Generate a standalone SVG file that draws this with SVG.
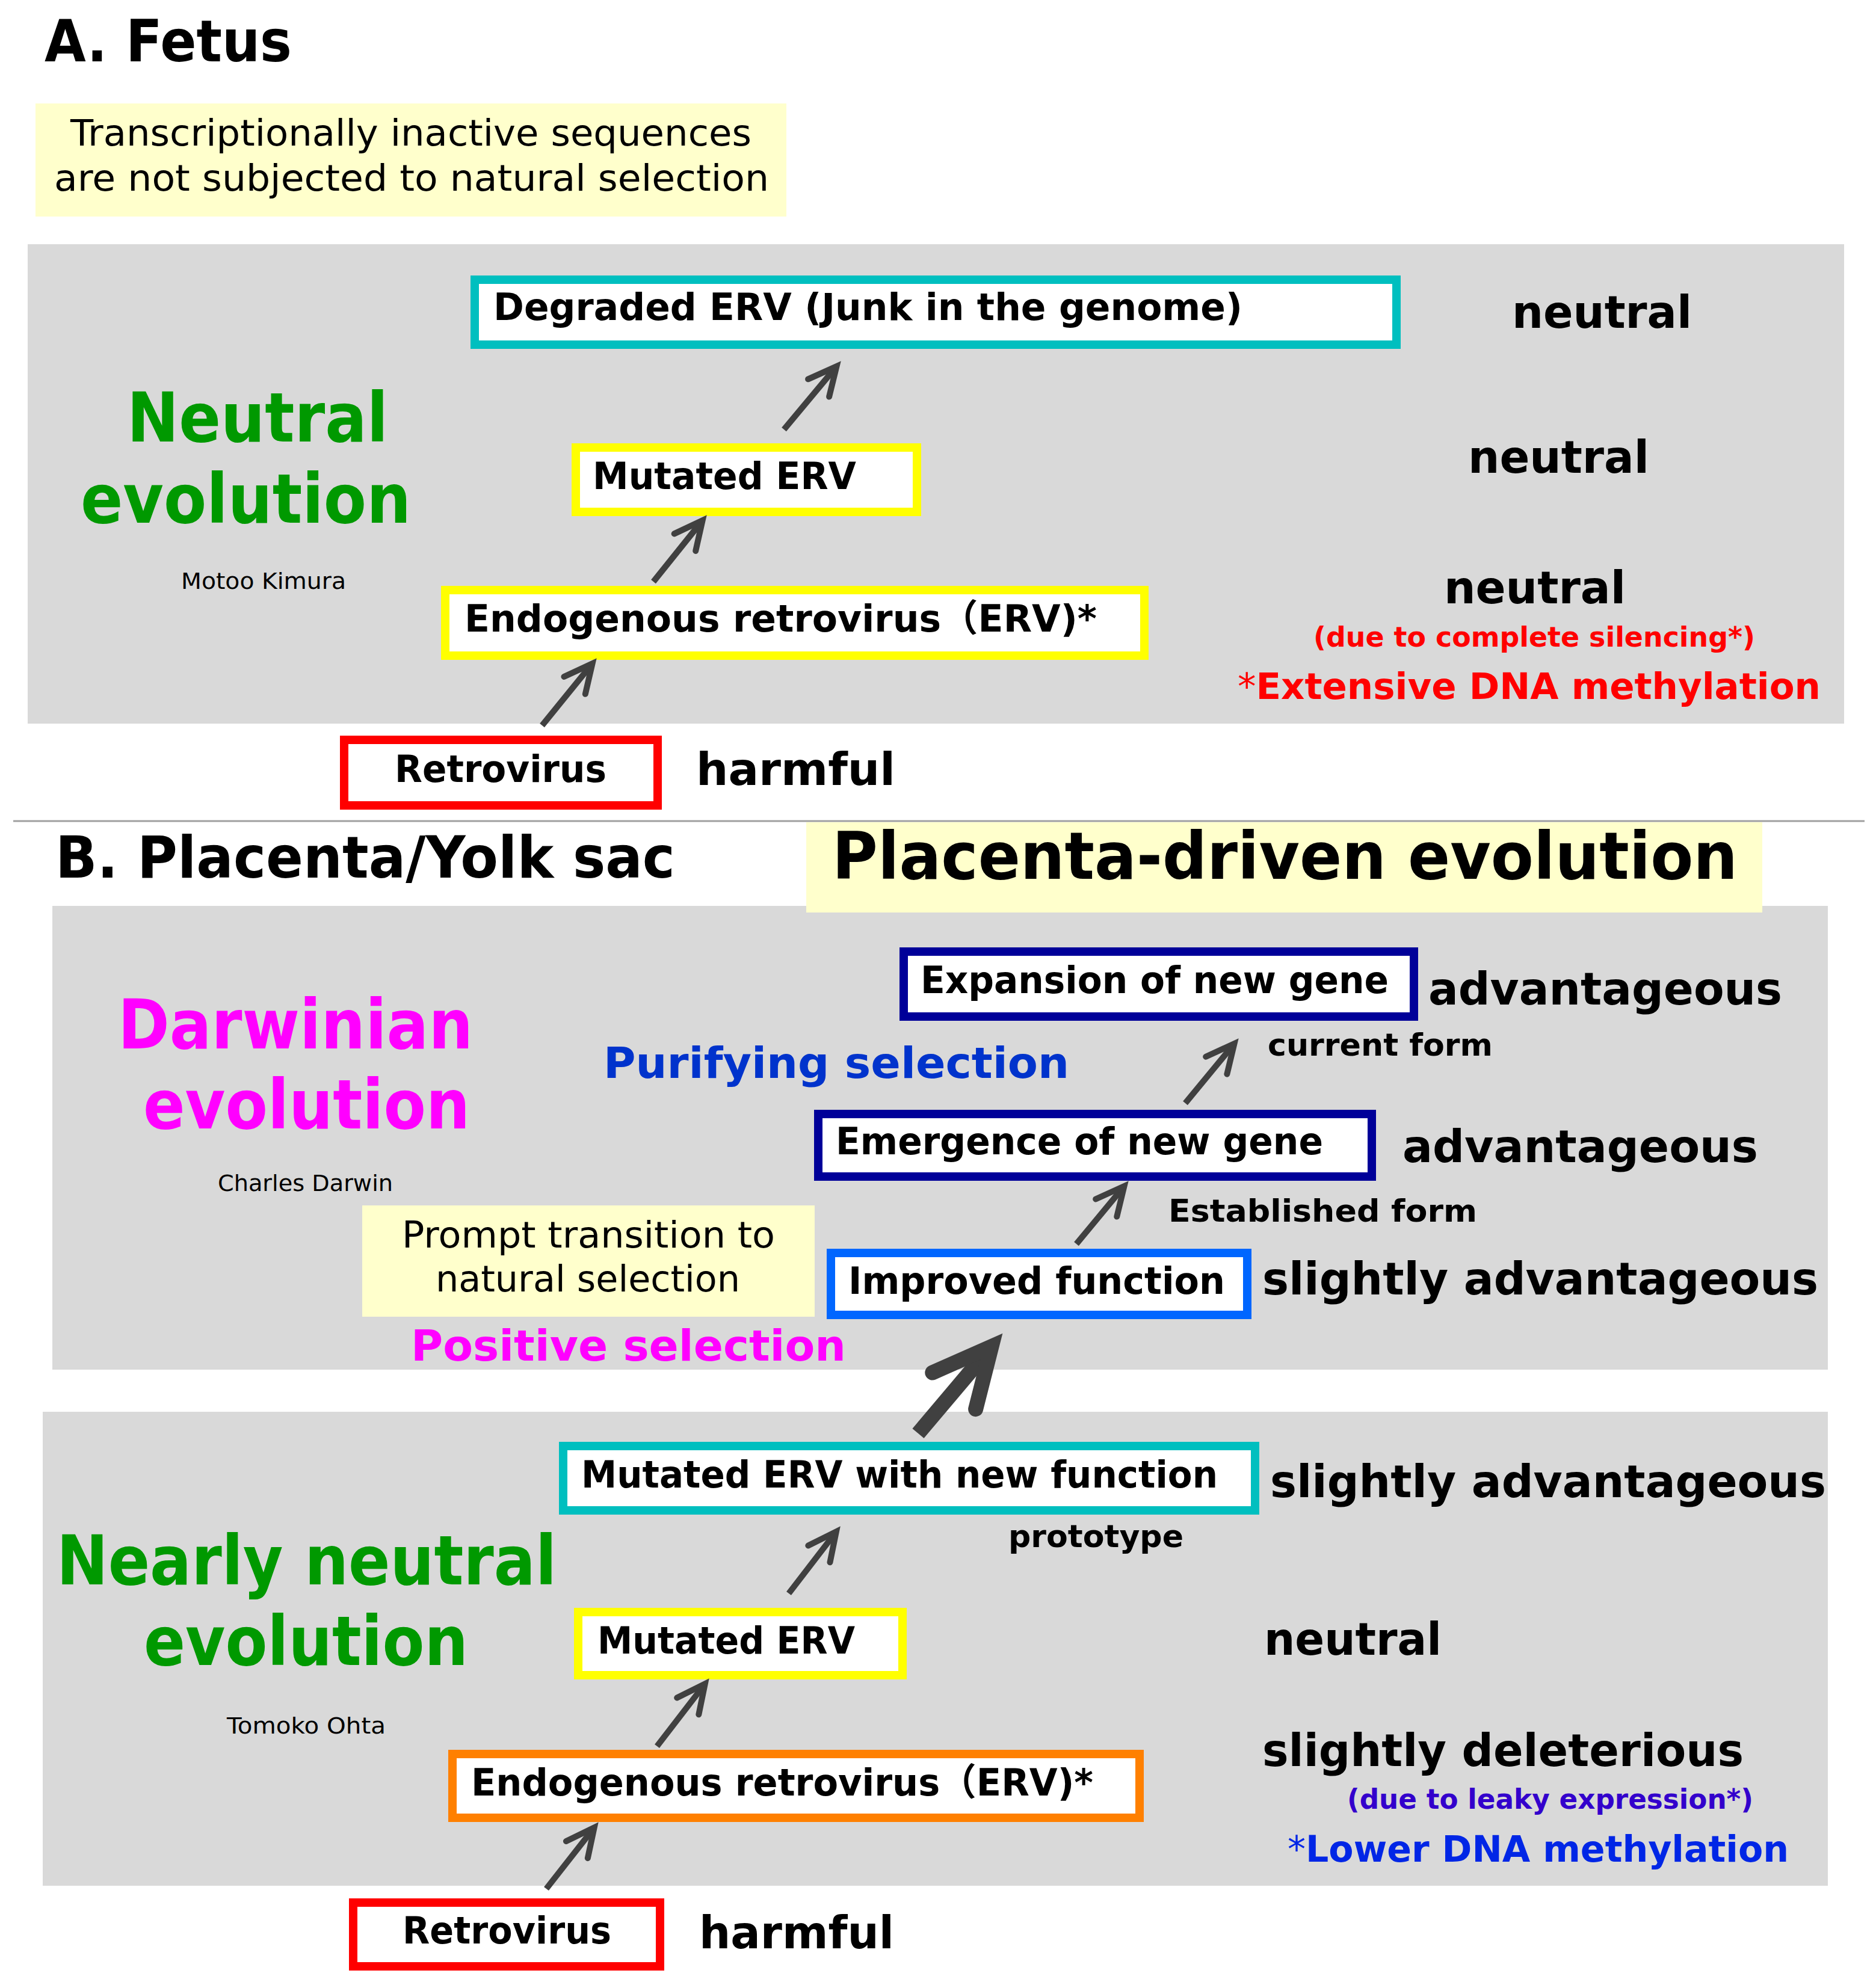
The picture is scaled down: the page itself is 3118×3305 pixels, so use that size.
<svg xmlns="http://www.w3.org/2000/svg" width="3118" height="3305" viewBox="0 0 3118 3305">
<style>
text{font-family:"DejaVu Sans","Noto Sans CJK JP",Verdana,sans-serif;}
.b{font-weight:bold;}
.n{font-weight:normal;}
.panel{fill:#D9D9D9;}
.note{fill:#FFFFCC;}
.box{fill:#FFFFFF;stroke-width:14;}
.cyan{stroke:#00BFBF;}
.yel{stroke:#FFFF00;}
.red{stroke:#FF0000;}
.navy{stroke:#000099;}
.blue{stroke:#0066FF;}
.orange{stroke:#FF8000;}
.bt{font-size:62px;font-weight:bold;fill:#000;}
.lab{font-size:74px;font-weight:bold;fill:#000;}
.big{font-size:114px;font-weight:bold;}
.sm{font-size:52px;font-weight:bold;fill:#000;}
.nm{font-size:38px;fill:#000;}
.arr{fill:none;stroke:#404040;stroke-linecap:butt;}
</style>
<defs>
<marker id="ahs" markerUnits="strokeWidth" orient="auto" overflow="visible" markerWidth="8" markerHeight="8" refX="0" refY="0">
<path d="M -4.25 -2.28 L 0.42 0 L -4.25 2.28" fill="none" stroke="#404040" stroke-width="1" stroke-linecap="round" stroke-linejoin="miter"/>
</marker>
<marker id="ahb" markerUnits="strokeWidth" orient="auto" overflow="visible" markerWidth="8" markerHeight="8" refX="0" refY="0">
<path d="M -3.44 -1.88 L 0.42 0 L -3.44 1.88" fill="none" stroke="#404040" stroke-width="1" stroke-linecap="round" stroke-linejoin="miter"/>
</marker>
</defs>
<rect width="3118" height="3305" fill="#FFFFFF"/>

<!-- Section A -->
<text class="b" x="74" y="102" font-size="96" textLength="411" lengthAdjust="spacingAndGlyphs">A. Fetus</text>
<g id="noteA">
<rect class="note" x="59" y="172" width="1248" height="188"/>
<text class="n" x="117" y="242" font-size="60" textLength="1132" lengthAdjust="spacingAndGlyphs">Transcriptionally inactive sequences</text>
<text class="n" x="90" y="317" font-size="60" textLength="1188" lengthAdjust="spacingAndGlyphs">are not subjected to natural selection</text>
</g>
<rect class="panel" x="46" y="406" width="3019" height="797"/>
<text class="big" fill="#009900" x="211" y="734" textLength="434" lengthAdjust="spacingAndGlyphs">Neutral</text>
<text class="big" fill="#009900" x="134" y="869" textLength="549" lengthAdjust="spacingAndGlyphs">evolution</text>
<text class="nm" x="301" y="979" textLength="274" lengthAdjust="spacingAndGlyphs">Motoo Kimura</text>

<g id="a-degraded">
<rect class="box cyan" x="789" y="465" width="1532" height="108"/>
<text class="bt" x="820" y="532" textLength="1245" lengthAdjust="spacingAndGlyphs">Degraded ERV (Junk in the genome)</text>
</g>
<text class="lab" x="2513" y="545" textLength="299" lengthAdjust="spacingAndGlyphs">neutral</text>

<g id="a-mutated">
<rect class="box yel" x="957" y="744" width="567" height="107"/>
<text class="bt" x="985" y="813" textLength="438" lengthAdjust="spacingAndGlyphs">Mutated ERV</text>
</g>
<text class="lab" x="2440" y="786" textLength="301" lengthAdjust="spacingAndGlyphs">neutral</text>

<g id="a-erv">
<rect class="box yel" x="740" y="981" width="1162" height="109"/>
<text class="bt" x="772" y="1050" textLength="1051" lengthAdjust="spacingAndGlyphs">Endogenous retrovirus（ERV)*</text>
</g>
<text class="lab" x="2400" y="1003" textLength="302" lengthAdjust="spacingAndGlyphs">neutral</text>
<text class="b" fill="#FF0000" x="2183" y="1075" font-size="46" textLength="734" lengthAdjust="spacingAndGlyphs">(due to complete silencing*)</text>
<text class="b" fill="#FF0000" x="2057" y="1162" font-size="60" textLength="969" lengthAdjust="spacingAndGlyphs"><tspan class="n">*</tspan>Extensive DNA methylation</text>

<g id="a-retro">
<rect class="box red" x="572" y="1230" width="521" height="109"/>
<text class="bt" x="656" y="1300" textLength="352" lengthAdjust="spacingAndGlyphs">Retrovirus</text>
</g>
<text class="lab" x="1157" y="1305" textLength="331" lengthAdjust="spacingAndGlyphs">harmful</text>

<line x1="22" y1="1365" x2="3099" y2="1365" stroke="#A0A0A0" stroke-width="3"/>

<!-- Section B -->
<text class="b" x="92" y="1459" font-size="96" textLength="1030" lengthAdjust="spacingAndGlyphs">B. Placenta/Yolk sac</text>
<rect class="panel" x="87" y="1506" width="2951" height="771"/>
<g id="b-title">
<rect class="note" x="1340" y="1367" width="1589" height="150"/>
<text class="b" x="1383" y="1461" font-size="108" textLength="1505" lengthAdjust="spacingAndGlyphs">Placenta-driven evolution</text>
</g>
<text class="big" fill="#FF00FF" x="196" y="1743" textLength="590" lengthAdjust="spacingAndGlyphs">Darwinian</text>
<text class="big" fill="#FF00FF" x="238" y="1876" textLength="543" lengthAdjust="spacingAndGlyphs">evolution</text>
<text class="nm" x="362" y="1980" textLength="291" lengthAdjust="spacingAndGlyphs">Charles Darwin</text>
<text class="b" fill="#0033CC" x="1003" y="1792" font-size="72" textLength="774" lengthAdjust="spacingAndGlyphs">Purifying selection</text>

<g id="b-expansion">
<rect class="box navy" x="1502" y="1582" width="848" height="108"/>
<text class="bt" x="1530" y="1651" textLength="778" lengthAdjust="spacingAndGlyphs">Expansion of new gene</text>
</g>
<text class="lab" x="2374" y="1670" textLength="588" lengthAdjust="spacingAndGlyphs">advantageous</text>
<text class="sm" x="2107" y="1755" textLength="374" lengthAdjust="spacingAndGlyphs">current form</text>

<g id="b-emergence">
<rect class="box navy" x="1360" y="1852" width="920" height="104"/>
<text class="bt" x="1389" y="1919" textLength="810" lengthAdjust="spacingAndGlyphs">Emergence of new gene</text>
</g>
<text class="lab" x="2331" y="1932" textLength="591" lengthAdjust="spacingAndGlyphs">advantageous</text>
<text class="sm" x="1942" y="2031" textLength="513" lengthAdjust="spacingAndGlyphs">Established form</text>

<g id="b-prompt">
<rect class="note" x="602" y="2004" width="752" height="185"/>
<text class="n" x="668" y="2074" font-size="60" textLength="620" lengthAdjust="spacingAndGlyphs">Prompt transition to</text>
<text class="n" x="724" y="2147" font-size="60" textLength="506" lengthAdjust="spacingAndGlyphs">natural selection</text>
</g>

<g id="b-improved">
<rect class="box blue" x="1381" y="2083" width="692" height="103"/>
<text class="bt" x="1410" y="2151" textLength="626" lengthAdjust="spacingAndGlyphs">Improved function</text>
</g>
<text class="lab" x="2098" y="2152" textLength="924" lengthAdjust="spacingAndGlyphs">slightly advantageous</text>
<text class="b" fill="#FF00FF" x="683" y="2262" font-size="72" textLength="723" lengthAdjust="spacingAndGlyphs">Positive selection</text>

<rect class="panel" x="71" y="2347" width="2967" height="788"/>
<text class="big" fill="#009900" x="94" y="2634" textLength="831" lengthAdjust="spacingAndGlyphs">Nearly neutral</text>
<text class="big" fill="#009900" x="239" y="2768" textLength="539" lengthAdjust="spacingAndGlyphs">evolution</text>
<text class="nm" x="377" y="2882" textLength="264" lengthAdjust="spacingAndGlyphs">Tomoko Ohta</text>

<g id="b-mutated-new">
<rect class="box cyan" x="936" y="2404" width="1150" height="107"/>
<text class="bt" x="966" y="2473" textLength="1058" lengthAdjust="spacingAndGlyphs">Mutated ERV with new function</text>
</g>
<text class="lab" x="2111" y="2489" textLength="924" lengthAdjust="spacingAndGlyphs">slightly advantageous</text>
<text class="sm" x="1676" y="2572" textLength="291" lengthAdjust="spacingAndGlyphs">prototype</text>

<g id="b-mutated">
<rect class="box yel" x="961" y="2680" width="539" height="105"/>
<text class="bt" x="993" y="2749" textLength="428" lengthAdjust="spacingAndGlyphs">Mutated ERV</text>
</g>
<text class="lab" x="2101" y="2751" textLength="295" lengthAdjust="spacingAndGlyphs">neutral</text>

<g id="b-erv">
<rect class="box orange" x="752" y="2916" width="1142" height="106"/>
<text class="bt" x="783" y="2985" textLength="1034" lengthAdjust="spacingAndGlyphs">Endogenous retrovirus（ERV)*</text>
</g>
<text class="lab" x="2098" y="2936" textLength="800" lengthAdjust="spacingAndGlyphs">slightly deleterious</text>
<text class="b" fill="#3300CC" x="2239" y="3007" font-size="46" textLength="675" lengthAdjust="spacingAndGlyphs">(due to leaky expression*)</text>
<text class="b" fill="#0026E6" x="2140" y="3095" font-size="60" textLength="833" lengthAdjust="spacingAndGlyphs"><tspan class="n">*</tspan>Lower DNA methylation</text>

<g id="b-retro">
<rect class="box red" x="587" y="3163" width="510" height="106"/>
<text class="bt" x="669" y="3231" textLength="347" lengthAdjust="spacingAndGlyphs">Retrovirus</text>
</g>
<text class="lab" x="1162" y="3239" textLength="324" lengthAdjust="spacingAndGlyphs">harmful</text>

<g id="connectors">
<path class="arr" stroke-width="10" marker-end="url(#ahs)" d="M 901 1206 L 981.9 1106.4"/>
<path class="arr" stroke-width="10" marker-end="url(#ahs)" d="M 1086 967 L 1165 868.5"/>
<path class="arr" stroke-width="10" marker-end="url(#ahs)" d="M 1303 714 L 1387.8 612.3"/>
<path class="arr" stroke-width="10" marker-end="url(#ahs)" d="M 908 3140 L 985.1 3041.6"/>
<path class="arr" stroke-width="10" marker-end="url(#ahs)" d="M 1092 2903 L 1169.2 2802.7"/>
<path class="arr" stroke-width="10" marker-end="url(#ahs)" d="M 1311 2649 L 1387.3 2549.7"/>
<path class="arr" stroke-width="25" marker-end="url(#ahb)" d="M 1526 2383 L 1641.2 2246.6"/>
<path class="arr" stroke-width="10" marker-end="url(#ahs)" d="M 1789 2068 L 1865.8 1975.3"/>
<path class="arr" stroke-width="10" marker-end="url(#ahs)" d="M 1970 1834 L 2048.8 1738.4"/>
</g>
</svg>
